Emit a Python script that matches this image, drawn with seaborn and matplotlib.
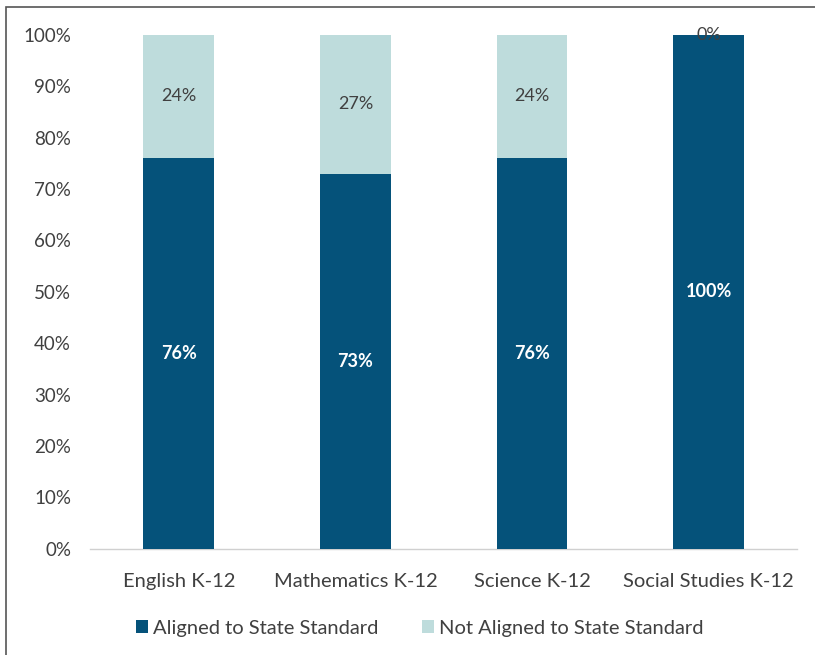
import matplotlib
matplotlib.use("Agg")
import matplotlib.pyplot as plt
import seaborn as sns
import pandas as pd
from matplotlib.patches import Rectangle, Patch

subjects = ["English K-12", "Mathematics K-12", "Science K-12", "Social Studies K-12"]
aligned = [76, 73, 76, 100]
not_aligned = [24, 27, 24, 0]
y_ticks = [0, 10, 20, 30, 40, 50, 60, 70, 80, 90, 100]

dark = "#05527A"
light = "#BEDCDC"
text_gray = "#404040"

sns.set_theme(style="white")
plt.rcParams["font.family"] = ["Lato", "DejaVu Sans"]

df = pd.DataFrame({
    "subject": subjects,
    "aligned": aligned,
    "not_aligned": not_aligned,
})
df["total"] = df["aligned"] + df["not_aligned"]

fig = plt.figure(figsize=(8.15, 6.55), dpi=100)
ax = fig.add_axes([0.111, 0.162, 0.867, 0.785])

# stacked bars: full height in light tone, aligned share drawn over it
sns.barplot(data=df, x="subject", y="total", color=light, width=0.4,
            saturation=1, linewidth=0, ax=ax, zorder=2)
sns.barplot(data=df, x="subject", y="aligned", color=dark, width=0.4,
            saturation=1, linewidth=0, ax=ax, zorder=3)

for i, (a, n) in enumerate(zip(aligned, not_aligned)):
    ax.text(i, a / 2, f"{a}%", ha="center", va="center", color="white",
            fontsize=13, fontweight="bold", zorder=5)
    ax.text(i, a + n / 2, f"{n}%", ha="center", va="center", color=text_gray,
            fontsize=13, zorder=5)

ax.set_xlim(-0.5, 3.5)
ax.set_ylim(0, 100)
ax.set_yticks(y_ticks)
ax.set_yticklabels([f"{t}%" for t in y_ticks])
ax.set_xlabel("")
ax.set_ylabel("")
ax.tick_params(axis="y", colors=text_gray, labelsize=13.5, length=0, pad=14)
ax.tick_params(axis="x", colors=text_gray, labelsize=14.5, length=0, pad=17)
for side in ["top", "right", "left"]:
    ax.spines[side].set_visible(False)
ax.spines["bottom"].set_color("#D0D0D0")
ax.spines["bottom"].set_linewidth(1.0)
ax.grid(False)

handles = [Patch(facecolor=dark, edgecolor="none", label="Aligned to State Standard"),
           Patch(facecolor=light, edgecolor="none", label="Not Aligned to State Standard")]
leg = fig.legend(handles=handles, loc="center", bbox_to_anchor=(0.515, 0.041),
                 ncol=2, frameon=False, fontsize=14.5, handlelength=0.6,
                 handleheight=0.6, handletextpad=0.25, columnspacing=2.2)
for t in leg.get_texts():
    t.set_color(text_gray)

# outer frame around the chart area
fig.patches.append(Rectangle((6 / 815, -0.05), 1.2, 1.05 - 7 / 655,
                             transform=fig.transFigure, fill=False,
                             edgecolor="#555555", linewidth=1.2))

fig.savefig("out.png", dpi=100)
